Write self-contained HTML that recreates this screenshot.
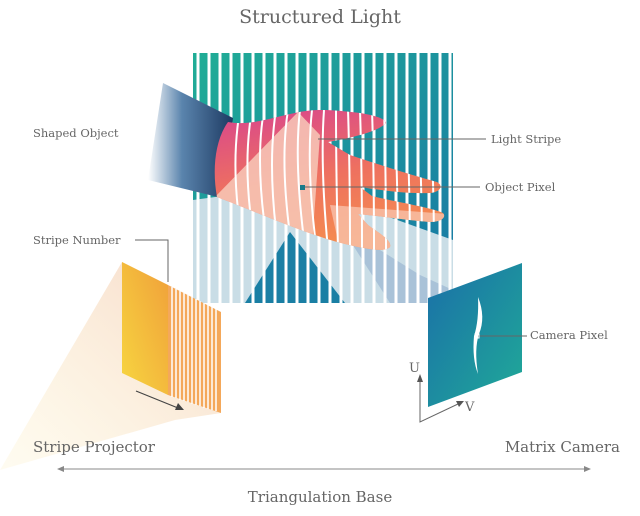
<!DOCTYPE html>
<html><head><meta charset="utf-8"><style>
html,body{margin:0;padding:0;background:#fff;width:640px;height:516px;overflow:hidden}
svg{display:block}
text{font-family:"DejaVu Serif","Liberation Serif",serif;fill:#666}
</style></head><body>
<svg width="640" height="516" viewBox="0 0 640 516" xmlns="http://www.w3.org/2000/svg">
<defs>
<linearGradient id="bg" x1="0" y1="0" x2="1" y2="1"><stop offset="0" stop-color="#20ad96"/><stop offset="1" stop-color="#1877a6"/></linearGradient>
<linearGradient id="sleeve" x1="0" y1="0" x2="1" y2="0"><stop offset="0" stop-color="#fff"/><stop offset="0.4" stop-color="#5a84ad"/><stop offset="1" stop-color="#1d3a62"/></linearGradient>
<linearGradient id="hand" x1="0" y1="0" x2="0.3" y2="1"><stop offset="0" stop-color="#d8458e"/><stop offset="0.55" stop-color="#ee7060"/><stop offset="1" stop-color="#f48a50"/></linearGradient>
<linearGradient id="proj" x1="1" y1="0" x2="0" y2="1"><stop offset="0" stop-color="#f0a03a"/><stop offset="1" stop-color="#f7d640"/></linearGradient>
<linearGradient id="beam" x1="1" y1="0" x2="0" y2="1"><stop offset="0" stop-color="#f6d8c8"/><stop offset="1" stop-color="#fdf3d0" stop-opacity="0.3"/></linearGradient>
<linearGradient id="cam" x1="0" y1="0" x2="1" y2="1"><stop offset="0" stop-color="#1a6fa8"/><stop offset="1" stop-color="#20aa98"/></linearGradient>
<clipPath id="sq"><rect x="193" y="53" width="260" height="250"/></clipPath>
<clipPath id="hc"><path id="handp" d="M228,122 C250,126 270,118 295,113 C315,108 335,110 360,113 C372,115 385,118 386,123 C378,132 350,138 328,142 L350,155 C380,165 415,176 437,182 C444,186 440,192 430,193 C405,194 380,190 360,187 L372,196 C400,203 430,207 443,213 C447,218 440,222 430,222 C405,220 380,216 358,214 L368,225 C380,234 392,240 390,247 C385,252 370,250 345,244 C320,238 290,226 260,214 C245,208 230,202 217,197 C212,170 215,140 228,122 Z"/></clipPath>
</defs>

<polygon points="0,470 122,262 168,285 221,413 175,420" fill="url(#beam)"/>

<rect x="193" y="53" width="260" height="250" fill="url(#bg)"/>
<g clip-path="url(#sq)">
<polygon points="193,200 230,195 300,185 453,240 453,303 193,303" fill="#c9dde6"/>
<polygon points="245,303 290,232 345,303" fill="#1a7fa4"/>
<polygon points="340,225 420,275 453,290 453,303 390,303" fill="#a9c2d8"/>
<g stroke="#fff" stroke-width="3">
<line x1="198" y1="53" x2="198" y2="303"/><line x1="209" y1="53" x2="209" y2="303"/><line x1="220" y1="53" x2="220" y2="303"/><line x1="231" y1="53" x2="231" y2="303"/><line x1="242" y1="53" x2="242" y2="303"/><line x1="253" y1="53" x2="253" y2="303"/><line x1="264" y1="53" x2="264" y2="303"/><line x1="275" y1="53" x2="275" y2="303"/><line x1="286" y1="53" x2="286" y2="303"/><line x1="297" y1="53" x2="297" y2="303"/><line x1="308" y1="53" x2="308" y2="303"/><line x1="319" y1="53" x2="319" y2="303"/><line x1="330" y1="53" x2="330" y2="303"/><line x1="341" y1="53" x2="341" y2="303"/><line x1="352" y1="53" x2="352" y2="303"/><line x1="363" y1="53" x2="363" y2="303"/><line x1="374" y1="53" x2="374" y2="303"/><line x1="385" y1="53" x2="385" y2="303"/><line x1="396" y1="53" x2="396" y2="303"/><line x1="407" y1="53" x2="407" y2="303"/><line x1="418" y1="53" x2="418" y2="303"/><line x1="429" y1="53" x2="429" y2="303"/><line x1="440" y1="53" x2="440" y2="303"/><line x1="450" y1="53" x2="450" y2="303"/>
</g>
</g>

<polygon points="163,83 233,118 222,198 148,180" fill="url(#sleeve)"/>

<use href="#handp" fill="url(#hand)"/>
<g clip-path="url(#hc)">
<polygon points="212,200 298,112 320,135 312,245 270,230" fill="#f7c9b8" opacity="0.85"/>
<polygon points="330,205 460,215 460,260 340,250" fill="#f8c6b0" opacity="0.75"/>
<g stroke="#fff" stroke-width="2" fill="none">
<path d="M240,110 q-8,45 -2,100"/><path d="M252,110 q-8,45 -2,100"/><path d="M264,110 q-8,45 0,110"/><path d="M276,110 q-8,50 0,120"/><path d="M288,110 q-8,50 2,125"/><path d="M300,110 q-6,50 4,130"/><path d="M312,110 q-6,55 4,135"/><path d="M324,110 q-4,55 4,140"/><path d="M336,110 q0,60 2,140"/><path d="M348,110 q2,60 2,140"/><path d="M360,110 q2,60 2,140"/><path d="M372,110 q2,60 2,140"/><path d="M384,110 q2,60 2,140"/><path d="M396,150 q2,50 2,100"/><path d="M408,150 q2,50 2,100"/><path d="M420,150 q2,50 2,100"/><path d="M432,150 q2,50 2,100"/>
</g>
</g>
<rect x="300" y="185" width="5" height="5" fill="#1a7a8a"/>

<polygon points="122,262 168,285 168,395 122,373" fill="url(#proj)"/>
<polygon points="168,285 221,312 221,413 168,395" fill="#f4a85a"/>
<g stroke="#fff" stroke-width="1.5">
<line x1="172" y1="287" x2="172" y2="397"/><line x1="176" y1="289" x2="176" y2="398"/><line x1="180" y1="291" x2="180" y2="400"/><line x1="184" y1="293" x2="184" y2="401"/><line x1="188" y1="295" x2="188" y2="402"/><line x1="192" y1="297" x2="192" y2="404"/><line x1="196" y1="299" x2="196" y2="405"/><line x1="200" y1="301" x2="200" y2="406"/><line x1="204" y1="303" x2="204" y2="408"/><line x1="208" y1="305" x2="208" y2="409"/><line x1="212" y1="307" x2="212" y2="410"/><line x1="216" y1="309" x2="216" y2="411"/>
</g>
<line x1="136" y1="391" x2="178" y2="408" stroke="#444" stroke-width="1.2"/>
<polygon points="184,410 175,410 178,403" fill="#444"/>

<polygon points="428,298 522,263 522,372 428,407" fill="url(#cam)"/>
<path d="M478,297 q8,20 1,37 q-5,15 -1,40 q-6,-15 -4,-38 q5,-15 4,-39 z" fill="#fff"/>
<line x1="478" y1="336" x2="527" y2="336" stroke="#666" stroke-width="1"/>
<rect x="475" y="334" width="4" height="4" fill="none" stroke="#fff" stroke-width="1"/>
<polyline points="420,380 420,422 458,404" fill="none" stroke="#666" stroke-width="1"/>
<polygon points="420,374 417,382 423,382" fill="#555"/>
<polygon points="464,401 456,401 459,407" fill="#555"/>
<text x="409" y="372" font-size="13" fill="#444">U</text>
<text x="465" y="411" font-size="13" fill="#444">V</text>

<g stroke="#666" stroke-width="1" fill="none">
<line x1="318" y1="139" x2="486" y2="139"/>
<line x1="305" y1="187" x2="480" y2="187"/>
<polyline points="135,240 168,240 168,282"/>
</g>

<line x1="62" y1="469" x2="586" y2="469" stroke="#888" stroke-width="1"/>
<polygon points="57,469 64,466 64,472" fill="#888"/>
<polygon points="591,469 584,466 584,472" fill="#888"/>

<text x="320" y="23" font-size="19" text-anchor="middle" fill="#555">Structured Light</text>
<text x="33" y="137" font-size="11.5">Shaped Object</text>
<text x="491" y="143" font-size="11.5">Light Stripe</text>
<text x="485" y="191" font-size="11.5">Object Pixel</text>
<text x="33" y="244" font-size="11.5">Stripe Number</text>
<text x="530" y="339" font-size="11.5">Camera Pixel</text>
<text x="33" y="452" font-size="15" fill="#444">Stripe Projector</text>
<text x="620" y="452" font-size="15" fill="#444" text-anchor="end">Matrix Camera</text>
<text x="320" y="502" font-size="15" fill="#444" text-anchor="middle">Triangulation Base</text>
</svg>
</body></html>
